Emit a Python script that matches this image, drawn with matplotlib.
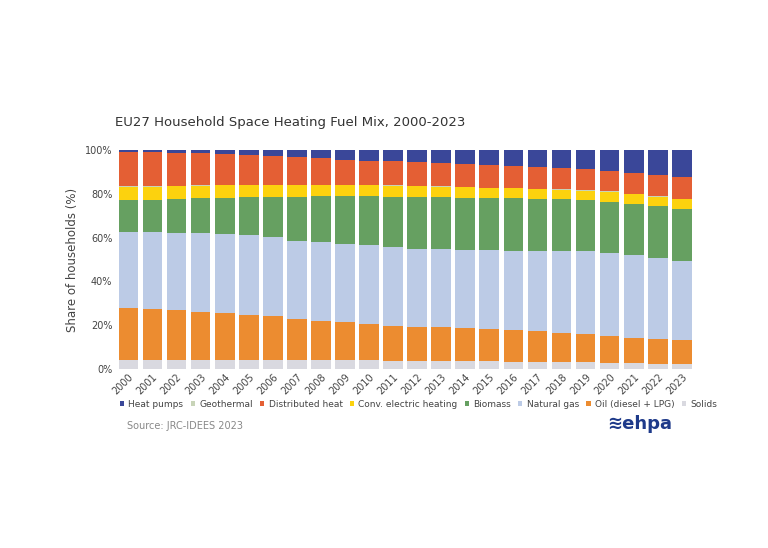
import matplotlib.pyplot as plt
import numpy as np

years = [str(y) for y in range(2000, 2024)]

# cumulative tops of each layer (% of households)
solids_top = [4.2, 4.2, 4.2, 4.1, 4.1, 4.0, 4.0, 3.9, 3.9, 3.8, 3.8, 3.7, 3.6, 3.6, 3.5, 3.4, 3.3, 3.2, 3.1, 3.0, 2.8, 2.6, 2.4, 2.3]
oil_top = [28.0, 27.5, 27.0, 26.2, 25.5, 24.7, 24.0, 22.8, 22.0, 21.3, 20.5, 19.5, 19.0, 19.0, 18.7, 18.2, 17.8, 17.2, 16.5, 15.8, 15.0, 14.0, 13.5, 13.3]
gas_top = [62.5, 62.5, 62.3, 62.0, 61.8, 61.2, 60.3, 58.6, 58.0, 57.3, 56.4, 55.5, 55.0, 54.6, 54.2, 54.2, 54.0, 54.0, 54.0, 53.7, 53.0, 51.9, 50.7, 49.5]
biomass_top = [77.0, 77.3, 77.8, 78.0, 78.3, 78.5, 78.6, 78.8, 78.9, 78.9, 78.9, 78.8, 78.6, 78.4, 78.2, 78.0, 77.9, 77.8, 77.5, 77.0, 76.2, 75.3, 74.3, 73.0]
elec_top = [83.3, 83.3, 83.6, 83.8, 84.0, 84.0, 84.0, 84.0, 84.0, 84.0, 84.0, 83.8, 83.5, 83.3, 83.0, 82.7, 82.5, 82.3, 82.0, 81.5, 81.0, 80.0, 78.8, 77.6]
geo_share = [0.1] * 24
district_top = [99.3, 99.2, 98.8, 98.5, 98.2, 97.8, 97.3, 96.8, 96.3, 95.7, 95.2, 94.9, 94.6, 94.3, 93.7, 93.2, 92.8, 92.3, 91.8, 91.2, 90.6, 89.6, 88.6, 87.7]
hp_top = [100.0] * 24

names = ['Solids', 'Oil (diesel + LPG)', 'Natural gas', 'Biomass',
         'Conv. electric heating', 'Geothermal', 'Distributed heat', 'Heat pumps']
colors = ['#d9d9e0', '#ec8c30', '#bccbe6', '#66a061', '#fcd20e', '#c8d4b8', '#e45f34', '#3a4799']

tops = [solids_top, oil_top, gas_top, biomass_top, elec_top,
        list(np.array(elec_top) + np.array(geo_share)), district_top, hp_top]

fig = plt.figure(figsize=(7.68, 5.48), dpi=100)
ax = fig.add_axes([0.15, 0.327, 0.755, 0.399])
x = np.arange(len(years))
bottom = np.zeros(len(years))
handles = {}
for name, top, c in zip(names, tops, colors):
    top = np.array(top)
    handles[name] = ax.bar(x, top - bottom, bottom=bottom, width=0.82, color=c, label=name)
    bottom = top

ax.set_xlim(-0.55, len(years) - 0.45)
ax.set_ylim(0, 100)
ax.set_yticks(range(0, 101, 20))
ax.set_yticklabels([f'{v}%' for v in range(0, 101, 20)], fontsize=7, color='#444444')
ax.set_xticks(x)
ax.set_xticklabels(years, rotation=45, fontsize=7, color='#444444', ha='right', rotation_mode='anchor')
ax.tick_params(length=0, pad=2)
for s in ax.spines.values():
    s.set_visible(False)
ax.set_ylabel('Share of households (%)', fontsize=8.5, color='#444444')

fig.text(0.15, 0.77, 'EU27 Household Space Heating Fuel Mix, 2000-2023', fontsize=9.5, color='#333333')
order = ['Heat pumps', 'Geothermal', 'Distributed heat', 'Conv. electric heating',
         'Biomass', 'Natural gas', 'Oil (diesel + LPG)', 'Solids']
fig.legend([handles[n] for n in order], order, loc='center', bbox_to_anchor=(0.545, 0.262), ncol=8,
           frameon=False, fontsize=6.5, handlelength=0.45, handleheight=0.45, columnspacing=0.8,
           handletextpad=0.5, labelcolor='#444444')
fig.text(0.165, 0.218, 'Source: JRC-IDEES 2023', fontsize=7, color='#888888')
fig.text(0.79, 0.218, '≋ehpa', fontsize=13, color='#1e3a8a', fontweight='bold')

fig.savefig('out.png', dpi=100)
